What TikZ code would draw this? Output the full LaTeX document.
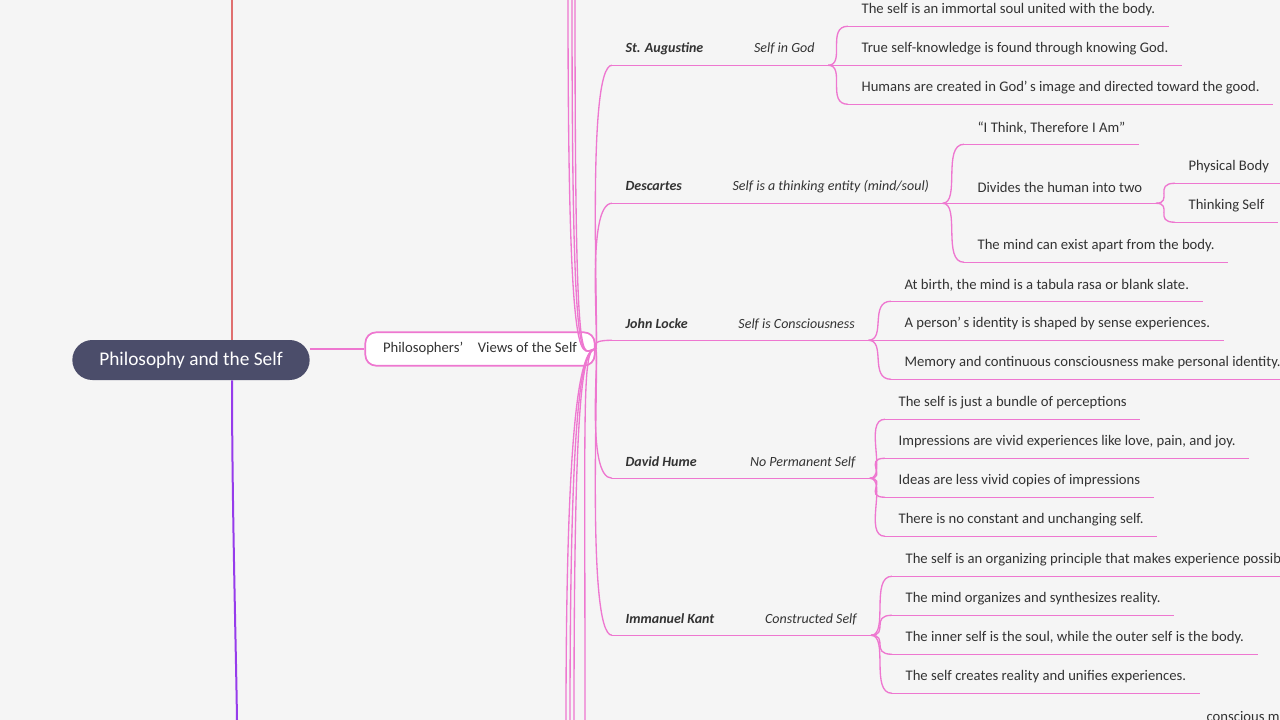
\documentclass[tikz,border=0pt]{standalone}
\usepackage{fontspec}
\setmainfont{Carlito}
\usetikzlibrary{positioning}
\definecolor{bgc}{HTML}{F5F5F5}
\definecolor{rootc}{HTML}{4B4D6A}
\definecolor{pinkc}{HTML}{EE77D0}
\definecolor{txtc}{HTML}{333333}
\begin{document}
\begin{tikzpicture}[x=0.75pt, y=-0.75pt,
    leaf/.style={anchor=west, inner xsep=10pt, minimum height=24pt, text=txtc, font=\fontsize{11}{13}\selectfont},
    phil/.style={leaf, font=\fontsize{10.5}{12}\selectfont},
    branch/.style={draw=pinkc, line width=1pt},
    under/.style={draw=pinkc, line width=1pt}]
  \fill[bgc] (0,0) rectangle (1280,720);
  \clip (0,0) rectangle (1280,720);

  \node[fill=rootc, text=white, rounded corners=15pt, minimum width=178pt, minimum height=30pt, font=\fontsize{14.5}{16}\selectfont] (root) at (191,360) {Philosophy and the Self};
  \node[fill=white, draw=pinkc, line width=1.3pt, rounded corners=8pt, minimum width=172pt, minimum height=25pt, text=txtc, font=\fontsize{11}{13}\selectfont] (views) at (480,349) {Philosophers’\quad Views of the Self};

  \coordinate (red top) at (232,0);
  \coordinate (vio bot) at (237,720);
  \draw[draw={rgb,255:red,224;green,112;blue,112}, line width=1.5pt] (root.north -| 232,0) -- (red top);
  \draw[draw={rgb,255:red,150;green,60;blue,235}, line width=1.5pt] (root.south -| 232,0) .. controls (232,500) and (236,650) .. (vio bot);
  \draw[draw=pinkc, line width=1.5pt] (views.west -| root.east) -- (views.west);

  % bundle of branches leaving the view node
  \foreach \a/\b in {568/0, 572/0, 575/0, 566/720, 570/720, 574/720, 585/720}
    \draw[branch] (views.east) .. controls (582,349) and (\a,400) .. (\a,\b);

  % philosophers
  \node[phil] (aug) at (612,49) {\textbf{\textit{St. Augustine}}\hspace{38pt}\textit{Self in God}};
  \node[phil] (desc) at (612,187) {\textbf{\textit{Descartes}}\hspace{38pt}\textit{Self is a thinking entity (mind/soul)}};
  \node[phil] (locke) at (612,324) {\textbf{\textit{John Locke}}\hspace{38pt}\textit{Self is Consciousness}};
  \node[phil] (hume) at (612,462) {\textbf{\textit{David Hume}}\hspace{40pt}\textit{No Permanent Self}};
  \node[phil] (kant) at (612,619) {\textbf{\textit{Immanuel Kant}}\hspace{38pt}\textit{Constructed Self}};
  \foreach \p in {aug,desc,locke,hume,kant}{
    \draw[branch] (views.east) .. controls (600,349) and (585,0 |- \p.south) .. (\p.south west);
    \draw[under] (\p.south west) -- (\p.south east);
  }

  % leaves
  \node[leaf] (a1) at (848,10) {The self is an immortal soul united with the body.};
  \node[leaf] (a2) at (848,49) {True self-knowledge is found through knowing God.};
  \node[leaf] (a3) at (848,88) {Humans are created in God’\,s image and directed toward the good.};
  \node[leaf] (d1) at (964,128) {“I Think, Therefore I Am”};
  \node[leaf] (d2) at (964,187) {Divides the human into two};
  \node[leaf] (d3) at (964,246) {The mind can exist apart from the body.};
  \node[leaf] (d21) at (1175,167) {Physical Body};
  \node[leaf] (d22) at (1175,206) {Thinking Self};
  \node[leaf] (l1) at (891,285) {At birth, the mind is a tabula rasa or blank slate.};
  \node[leaf] (l2) at (891,324) {A person’\,s identity is shaped by sense experiences.};
  \node[leaf] (l3) at (891,363) {Memory and continuous consciousness make personal identity.};
  \node[leaf] (h1) at (885,403) {The self is just a bundle of perceptions};
  \node[leaf] (h2) at (885,442) {Impressions are vivid experiences like love, pain, and joy.};
  \node[leaf] (h3) at (885,481) {Ideas are less vivid copies of impressions};
  \node[leaf] (h4) at (885,520) {There is no constant and unchanging self.};
  \node[leaf] (k1) at (892,560) {The self is an organizing principle that makes experience possible.};
  \node[leaf] (k2) at (892,599) {The mind organizes and synthesizes reality.};
  \node[leaf] (k3) at (892,638) {The inner self is the soul, while the outer self is the body.};
  \node[leaf] (k4) at (892,677) {The self creates reality and unifies experiences.};
  \node[leaf] (m1) at (1193,716) {conscious mind};

  \foreach \p/\c in {aug/a1,aug/a2,aug/a3,desc/d1,desc/d2,desc/d3,d2/d21,d2/d22,
      locke/l1,locke/l2,locke/l3,hume/h1,hume/h2,hume/h3,hume/h4,kant/k1,kant/k2,kant/k3,kant/k4}{
    \draw[branch] (\p.south east) .. controls +(18,0) and +(-22,0) .. (\c.south west);
    \draw[under] (\c.south west) -- (\c.south east);
  }
\end{tikzpicture}
\end{document}
